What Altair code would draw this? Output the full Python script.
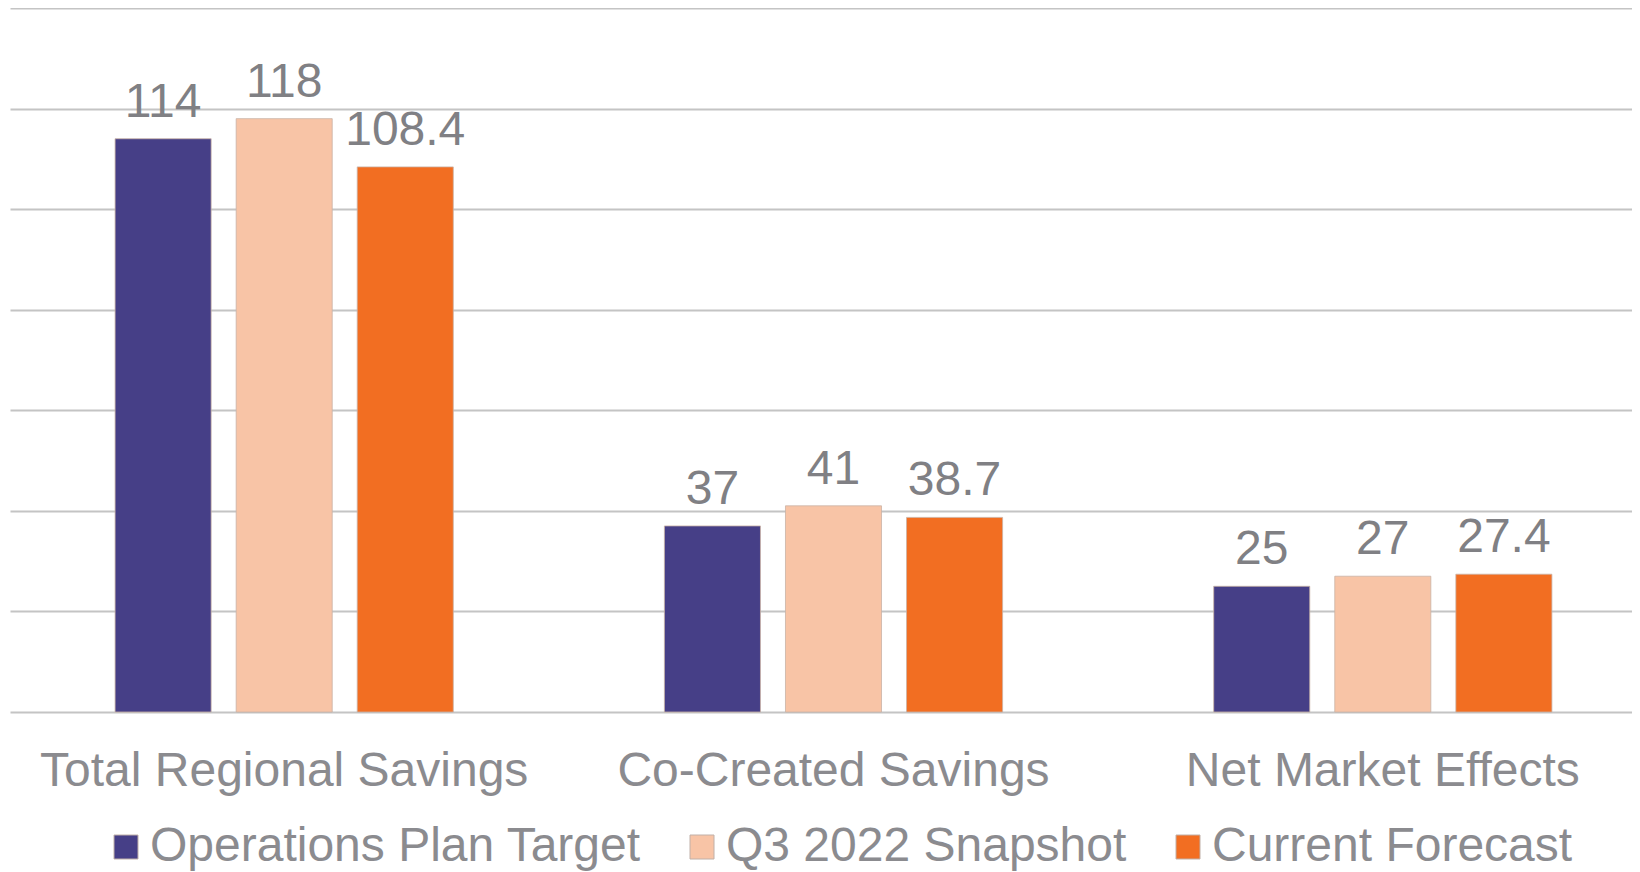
import altair as alt
import pandas as pd

categories = ["Total Regional Savings", "Co-Created Savings", "Net Market Effects"]
series = ["Operations Plan Target", "Q3 2022 Snapshot", "Current Forecast"]
ops_target = [114, 37, 25]
q3_snapshot = [118, 41, 27]
current_forecast = [108.4, 38.7, 27.4]
colors = ["#463F87", "#F8C4A6", "#F26E22"]
y_ticks = [0, 20, 40, 60, 80, 100, 120, 140]

rows = []
for s, vals in zip(series, [ops_target, q3_snapshot, current_forecast]):
    for c, v in zip(categories, vals):
        rows.append({"category": c, "series": s, "value": v, "label": f"{v:g}"})
df = pd.DataFrame(rows)

FONT = "Liberation Sans"
AXIS_GREY = "#8b8b8f"
LABEL_GREY = "#808084"

x_enc = alt.X(
    "category:N",
    sort=categories,
    scale=alt.Scale(range=[0, 1647], paddingInner=0.3843, paddingOuter=0.1913),
    axis=alt.Axis(
        title=None, labelAngle=0, ticks=False, tickSize=0, domain=False,
        labelFontSize=48, labelColor=AXIS_GREY, labelFont=FONT,
        labelBaseline="alphabetic", labelPadding=73, labelLimit=1000,
    ),
)
xoff_enc = alt.XOffset("series:N", sort=series,
                       scale=alt.Scale(paddingInner=0.2066, paddingOuter=0))
y_enc = alt.Y(
    "value:Q",
    scale=alt.Scale(domain=[0, 140], nice=False),
    axis=alt.Axis(
        title=None, labels=False, ticks=False, domain=False, values=y_ticks,
        grid=True, gridColor="#c4c4c4", gridWidth=2,
    ),
)

bars = alt.Chart(df).mark_bar(stroke="#c9b2a6", strokeWidth=0.8).encode(
    x=x_enc,
    xOffset=xoff_enc,
    y=y_enc,
    color=alt.Color(
        "series:N", sort=series,
        scale=alt.Scale(domain=series, range=colors),
        legend=alt.Legend(
            title=None, orient="none", legendX=92, legendY=815,
            direction="horizontal", symbolType="square", symbolSize=576,
            symbolStrokeColor="#c0b0a8", symbolStrokeWidth=1,
            labelFontSize=48, labelFont=FONT, labelColor=AXIS_GREY,
            labelOffset=0, columnPadding=37, labelLimit=1000, padding=0,
        ),
    ),
)

labels = alt.Chart(df).mark_text(
    baseline="alphabetic", align="center", dy=-22, fontSize=48,
    font=FONT, color=LABEL_GREY,
).encode(
    x=alt.X("category:N", sort=categories),
    xOffset=alt.XOffset("series:N", sort=series),
    y=alt.Y("value:Q"),
    text="label:N",
)

chart = alt.layer(bars, labels).properties(
    width=1622, height=704,
    padding={"left": 2, "top": 0, "right": 0, "bottom": 160},
    autosize=alt.AutoSizeParams(type="none"),
    background="white",
).configure_view(stroke=None)

chart.save("out.html", embed_options={"renderer": "svg", "actions": False})
